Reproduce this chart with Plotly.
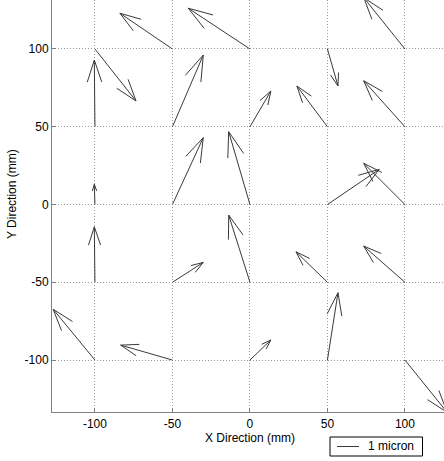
import plotly.graph_objects as go

# Grid positions (mm)
x_pos = [-100, -50, 0, 50, 100]
y_pos = [100, 50, 0, -50, -100]

# Displacement components (plot units), rows follow y_pos, columns follow x_pos
U = [
    [26.5, -33.9, -39.8, 6.8, -26.5],
    [-0.4, 19.9, 13.5, -19.7, -26.6],
    [-0.4, 19.9, -13.7, 33.4, -26.6],
    [-0.4, 19.9, -13.7, -20.3, -26.6],
    [-26.9, -33.4, 13.5, 6.8, 27.2],
]
V = [
    [-33.4, 23.0, 26.2, -23.8, 32.9],
    [42.9, 46.1, 23.0, 26.2, 29.6],
    [13.0, 43.0, 46.8, 22.6, 26.5],
    [35.7, 12.8, 43.2, 19.6, 23.3],
    [32.6, 9.6, 12.9, 43.3, -33.6],
]

x_ticks = [-100, -50, 0, 50, 100]
x_tick_labels = ["-100", "-50", "0", "50", "100"]
y_ticks = [-100, -50, 0, 50, 100]
y_tick_labels = ["-100", "-50", "0", "50", "100"]
legend_label = "1 micron"

alpha = 0.33
beta = 0.33

xs, ys = [], []
for i, yv in enumerate(y_pos):
    for j, xv in enumerate(x_pos):
        u = U[i][j]
        v = V[i][j]
        tx, ty = xv + u, yv + v
        # shaft
        xs += [xv, tx, None]
        ys += [yv, ty, None]
        # head
        xs += [tx - alpha * (u + beta * v), tx, tx - alpha * (u - beta * v), None]
        ys += [ty - alpha * (v - beta * u), ty, ty - alpha * (v + beta * u), None]

fig = go.Figure()
fig.add_trace(go.Scatter(
    x=xs, y=ys, mode="lines",
    line=dict(color="#3a3a3a", width=1),
    hoverinfo="skip", showlegend=False,
))

W, H = 444, 461
ml, mr, mt, mb = 52, 0, 0, 49
pw, ph = W - ml - mr, H - mt - mb


def px2paper_x(px):
    return (px - ml) / pw


def px2paper_y(py):
    return (H - mb - py) / ph


font = dict(family="Liberation Sans, Arial, sans-serif", size=12, color="black")

axis_common = dict(
    showline=True, linecolor="#808080", linewidth=1,
    ticks="inside", ticklen=4, tickcolor="#808080",
    showgrid=True, gridcolor="#9a9a9a", griddash="1px,2px", gridwidth=1,
    zeroline=False, tickfont=font,
)

fig.update_layout(
    width=W, height=H,
    margin=dict(l=ml, r=mr, t=mt, b=mb),
    paper_bgcolor="white", plot_bgcolor="white",
    font=font,
    showlegend=False,
    xaxis=dict(range=[-127.7, 125.2], tickvals=x_ticks, ticktext=x_tick_labels,
               ticklabelstandoff=1, **axis_common),
    yaxis=dict(range=[-133.4, 131.5], tickvals=y_ticks, ticktext=y_tick_labels,
               ticklabelstandoff=0, **axis_common),
    annotations=[
        dict(text="X Direction (mm)", xref="paper", yref="paper",
             x=px2paper_x(250), y=px2paper_y(437.5), showarrow=False,
             xanchor="center", yanchor="middle", font=font),
        dict(text="Y Direction (mm)", xref="paper", yref="paper",
             x=px2paper_x(12), y=px2paper_y(194), showarrow=False,
             xanchor="center", yanchor="middle", textangle=-90, font=font),
        dict(text=legend_label, xref="paper", yref="paper",
             x=px2paper_x(366), y=px2paper_y(446.5), showarrow=False,
             xanchor="left", yanchor="middle", font=font),
    ],
    shapes=[
        dict(type="rect", xref="paper", yref="paper",
             x0=px2paper_x(330), x1=px2paper_x(422.5),
             y0=px2paper_y(456), y1=px2paper_y(437),
             line=dict(color="black", width=1), fillcolor="white", layer="below"),
        dict(type="line", xref="paper", yref="paper",
             x0=px2paper_x(337), x1=px2paper_x(359),
             y0=px2paper_y(446.5), y1=px2paper_y(446.5),
             line=dict(color="#3a3a3a", width=1)),
    ],
)

fig.write_html("out.html", config={"displayModeBar": False},
               post_script="document.body.style.margin='0';")
